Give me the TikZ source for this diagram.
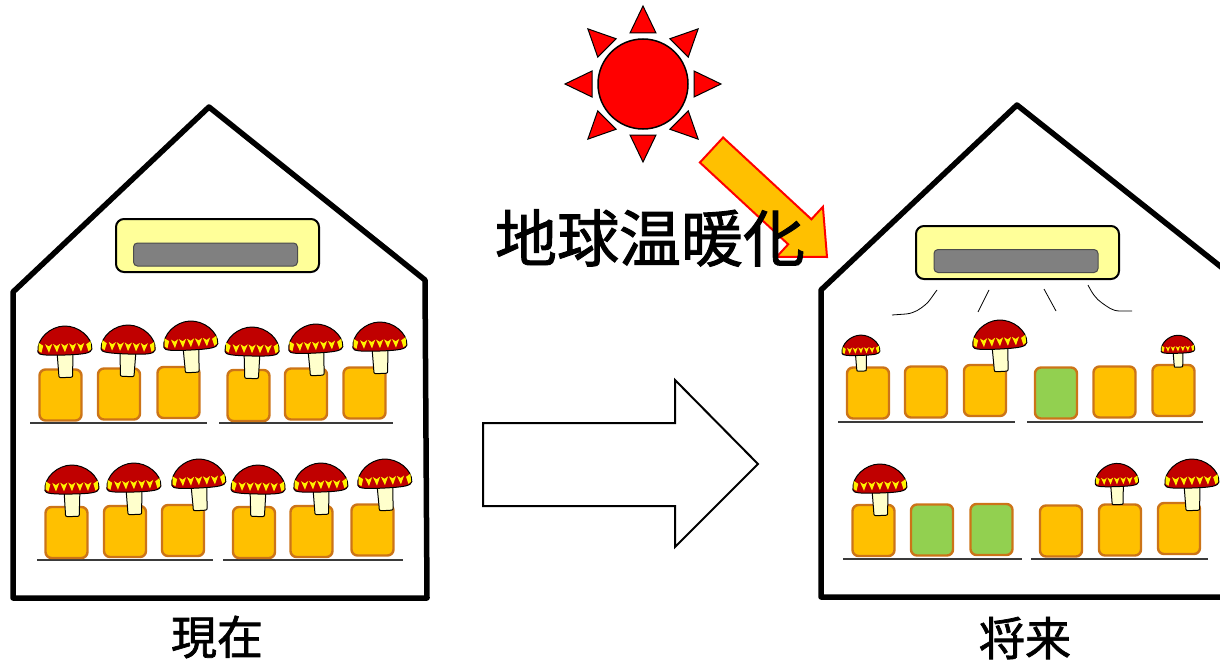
\documentclass[tikz,border=0pt]{standalone}
\usepackage{fontspec}
\newfontfamily\jp[FakeBold=1.5]{Noto Sans CJK JP}
\definecolor{capred}{HTML}{C00000}
\definecolor{stemcream}{HTML}{FFFFCC}
\definecolor{boxgold}{HTML}{FFC000}
\definecolor{boxedge}{HTML}{CC7418}
\definecolor{moldgreen}{HTML}{92D050}
\definecolor{acbody}{HTML}{FFFF99}
\definecolor{acvent}{HTML}{808080}
\definecolor{shelfgray}{HTML}{3A3A3A}
\definecolor{sunred}{HTML}{FF0000}
\begin{document}
\begin{tikzpicture}[x=1pt,y=-1pt,
  house/.style={line width=5.5pt, line join=round},
  block/.style={draw=boxedge, fill=boxgold, line width=2.4pt, rounded corners=6pt,
    minimum width=42pt, minimum height=51pt, inner sep=0pt},
  moldy/.style={block, fill=moldgreen},
  acunit/.style={draw, line width=2pt, fill=acbody, rounded corners=8pt,
    minimum width=203pt, minimum height=53pt, inner sep=0pt},
  acgrille/.style={draw=black!70, line width=1pt, fill=acvent, rounded corners=4pt,
    minimum width=164pt, minimum height=23pt, inner sep=0pt},
  shelf/.style={line width=1.3pt, shelfgray},
  airflow/.style={line width=0.8pt},
  caption/.style={font=\jp\fontsize{46}{46}\selectfont, inner sep=0pt},
  ray/.style={draw=black, line width=1pt, fill=sunred, line join=miter},
  mushroom/.pic={
    % stem
    \draw[line width=1pt, fill=stemcream, line join=round]
      (-8,-3) -- (-7,20) .. controls (-7,24.5) .. (-3,24.5) -- (3,24.5)
      .. controls (7,24.5) .. (7,20) -- (8,-3) -- cycle;
    % cap
    \draw[line width=1pt, fill=capred, line join=round]
      (-27,-2) .. controls (-28,-15) and (-14,-27) .. (0,-27)
      .. controls (14,-27) and (28,-15) .. (27,-3)
      .. controls (26,1) and (20,2) .. (0,2)
      .. controls (-20,2) and (-27,1) .. (-27,-2) -- cycle;
    % yellow spots along the rim
    \foreach \sx in {-16,-8,0,8,16}
      \fill[yellow] (\sx-3.6,-9.5) -- (\sx,-7.2) -- (\sx+3.6,-9.5) -- (\sx,-0.8) -- cycle;
    \fill[yellow] (-26,-11) -- (-21.5,-8) -- (-23.5,-1) -- (-26.3,-3) -- cycle;
    \fill[yellow] (26,-11) -- (21.5,-8) -- (23.5,-1) -- (26.3,-3) -- cycle;
  }]
\useasboundingbox (0,0) rectangle (1220,661);

% ---------- sun ----------
\node[circle, draw=black, line width=1.5pt, fill=sunred, minimum size=90pt, inner sep=0pt]
  (sun) at (643,84) {};
\foreach \a in {0,45,...,315}
  \draw[ray, shift={(sun.center)}, rotate=\a] (51,-13) -- (78,0) -- (51,13) -- cycle;

% ---------- heat arrow and title ----------
\draw[draw=red, line width=2pt, fill=boxgold, line join=miter]
  (723.1,137.5) -- (811.4,219.3) -- (822.9,206.8) -- (827,257)
  -- (776.7,256.8) -- (788.2,244.3) -- (699.9,162.5) -- cycle;
\node[font=\jp\fontsize{62}{62}\selectfont, inner sep=0pt] (title) at (650,238) {地球温暖化};

% ---------- transition arrow ----------
\draw[line width=2pt, fill=white, line join=miter]
  (483,423) -- (675,423) -- (675,380) -- (758,464) -- (675,547) -- (675,506) -- (483,506) -- cycle;

% ---------- present-day house ----------
\draw[house] (13,292) -- (209,107) -- (425,280) -- (427,598) -- (13,598) -- cycle;
\node[acunit] (acL) at (217.5,245.5) {};
\node[acgrille] (ventL) at (215.5,254.5) {};

\draw[shelf] (30,423) -- (207,423);
\draw[shelf] (219,423) -- (393,423);
\draw[shelf] (37,560) -- (213,560);
\draw[shelf] (223,560) -- (403,560);

\node[block] (L1) at (60.5,395) {};
\node[block] (L2) at (119,394) {};
\node[block] (L3) at (178.5,392.5) {};
\node[block] (L4) at (248.5,395.5) {};
\node[block] (L5) at (306,394) {};
\node[block] (L6) at (364.5,393) {};
\node[block] (L7) at (66.5,532.5) {};
\node[block] (L8) at (125,531.5) {};
\node[block] (L9) at (183,530.5) {};
\node[block] (L10) at (254,532.5) {};
\node[block] (L11) at (311.5,531.5) {};
\node[block] (L12) at (372.5,530) {};

\pic[rotate=2] at (65,353) {mushroom};
\pic[rotate=-2] at (128,352) {mushroom};
\pic[rotate=3] at (191,348) {mushroom};
\pic[rotate=-1] at (252,354) {mushroom};
\pic[rotate=3] at (316,351) {mushroom};
\pic[rotate=2] at (380,349) {mushroom};
\pic[rotate=1] at (72,492) {mushroom};
\pic[rotate=2] at (134,490) {mushroom};
\pic[rotate=3] at (199,486) {mushroom};
\pic[rotate=-1] at (258,492) {mushroom};
\pic[rotate=2] at (321,490) {mushroom};
\pic[rotate=3] at (385,486) {mushroom};

\node[caption] (now) at (217,637) {現在};

% ---------- future house ----------
\draw[house] (821,290) -- (1017,105) -- (1235,278) -- (1235,597) -- (821,597) -- cycle;
\node[acunit] (acR) at (1017.5,252.5) {};
\node[acgrille] (ventR) at (1016,261) {};

\coordinate (w1) at (937,290);
\coordinate (w2) at (892,315);
\coordinate (w3) at (1088,285);
\coordinate (w4) at (1132,311);
\draw[airflow] (w1) .. controls (931,298) and (929,302) .. (925,305)
  .. controls (920,309) and (915,313) .. (906,314) -- (w2);
\draw[airflow] (989,290) -- (978,312);
\draw[airflow] (1044,289) -- (1056,311);
\draw[airflow] (w3) .. controls (1092,293) and (1096,299) .. (1102,303)
  .. controls (1108,307) and (1112,311) .. (1120,311) -- (w4);

\draw[shelf] (838,422) -- (1015,422);
\draw[shelf] (1027,422) -- (1203,422);
\draw[shelf] (843,559) -- (1022,559);
\draw[shelf] (1031,559) -- (1208,559);

\node[block] (R1) at (868,393) {};
\node[block] (R2) at (926,392) {};
\node[block] (R3) at (985,390.5) {};
\node[moldy] (R4) at (1056,393) {};
\node[block] (R5) at (1114.5,392) {};
\node[block] (R6) at (1173.5,390.5) {};
\node[block] (R7) at (873.5,530.5) {};
\node[moldy] (R8) at (932,530) {};
\node[moldy] (R9) at (991.5,529.5) {};
\node[block] (R10) at (1061,531) {};
\node[block] (R11) at (1120,530) {};
\node[block] (R12) at (1179,528.5) {};

\pic[scale=0.7, rotate=2] at (861,354) {mushroom};
\pic[rotate=3] at (1000,347) {mushroom};
\pic[scale=0.62, rotate=2] at (1178,352) {mushroom};
\pic[rotate=2] at (880,491) {mushroom};
\pic[scale=0.8, rotate=2] at (1117,485) {mushroom};
\pic[rotate=2] at (1192,486) {mushroom};

\node[caption] (future) at (1025,638) {将来};
\end{tikzpicture}
\end{document}
